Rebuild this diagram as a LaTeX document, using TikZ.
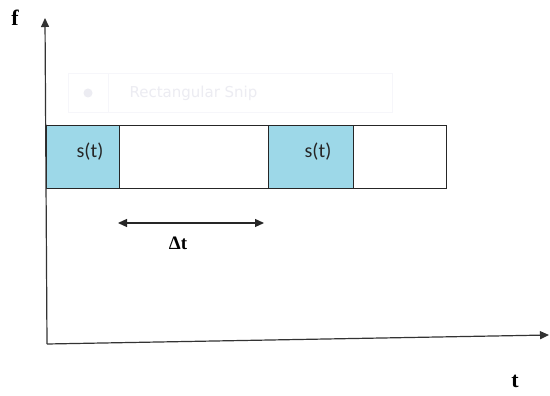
\documentclass[tikz,border=0pt]{standalone}
\usepackage{fontspec}
\setmainfont{Liberation Serif}
\newfontfamily\calib{Carlito}
\newfontfamily\snipfont{DejaVu Sans}
\usetikzlibrary{arrows.meta}
\definecolor{sigblue}{RGB}{157,216,232}
\definecolor{ghost}{RGB}{236,236,242}
\definecolor{ghostline}{RGB}{246,246,250}
\tikzset{
  axis/.style={draw=black!80, line width=1.2pt, -{Triangle[length=9pt,width=8pt]}},
  cell/.style={draw=black!85, line width=1pt, minimum height=63pt, inner sep=0pt, anchor=north west},
  sig/.style={cell, fill=sigblue},
  sigtext/.style={font=\calib\fontsize{20}{22}\selectfont, text=black!85, inner sep=0pt},
  lbl/.style={font=\bfseries\fontsize{22}{24}\selectfont, inner sep=0pt},
  dtlbl/.style={font=\bfseries\fontsize{19}{21}\selectfont, inner sep=0pt},
  dt/.style={draw=black!85, line width=1.2pt, {Triangle[length=9pt,width=8pt]}-{Triangle[length=9pt,width=8pt]}},
}
\begin{document}
\begin{tikzpicture}[x=1pt,y=-1pt]
\useasboundingbox (0,0) rectangle (550,396);
% ghost snip box
\node[draw=ghostline, fill=white, minimum width=324pt, minimum height=39pt, anchor=north west, inner sep=0pt] (snip) at (68,73) {};
\draw[ghostline] (108,73) -- (108,112);
\node[circle, fill=ghost, minimum size=9pt, inner sep=0pt] (snipdot) at (88,93) {};
\node[anchor=west, text=ghost, font=\snipfont\fontsize{15}{17}\selectfont] (sniptext) at (126,93) {Rectangular Snip};
% band cells
\node[sig, minimum width=73pt] (s1) at (46,125) {};
\node[cell, minimum width=149pt] (w1) at (119,125) {};
\node[sig, minimum width=85pt] (s2) at (268,125) {};
\node[cell, minimum width=93pt] (w2) at (353,125) {};
\node[sigtext] (l1) at (90,152) {s(t)};
\node[sigtext] (l2) at (318,152) {s(t)};
% axes
\coordinate (o) at (47,344);
\coordinate (ytop) at (45,18);
\coordinate (xend) at (549,335);
\draw[axis] (o) -- (ytop);
\draw[axis] (o) -- (xend);
\node[lbl] (f) at (15,18) {f};
\node[lbl] (t) at (515,381) {t};
% delta t
\coordinate (da) at (118,223);
\coordinate (db) at (264,223);
\draw[dt] (da) -- (db);
\node[dtlbl] (dtl) at (178,243) {Δt};
\end{tikzpicture}
\end{document}
